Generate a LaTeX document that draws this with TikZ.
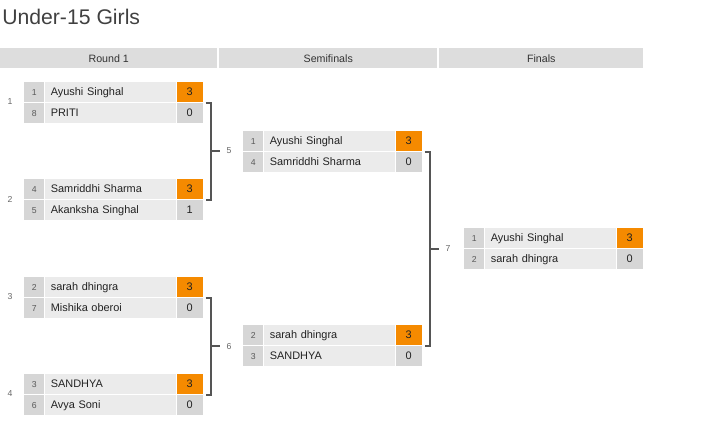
\documentclass[tikz,border=0pt]{standalone}
\usepackage{fontspec}
\setmainfont{Liberation Sans}
\usetikzlibrary{positioning,calc}
\definecolor{barbg}{HTML}{DDDDDD}
\definecolor{seedbg}{HTML}{D6D6D6}
\definecolor{namebg}{HTML}{EBEBEB}
\definecolor{winbg}{HTML}{F58A00}
\definecolor{ink}{HTML}{222222}
\definecolor{linegray}{HTML}{555555}
\tikzset{
  cell/.style={inner sep=0pt,minimum height=15pt,text height=6pt,text depth=1.7pt,font=\fontsize{8.2}{9}\selectfont,text=ink},
  seedcell/.style={cell,fill=seedbg,minimum width=15pt,anchor=north west,font=\fontsize{6.5}{8}\selectfont,text=black!65},
  namecell/.style={cell,fill=namebg,text width=89.5pt,inner xsep=4.5pt,align=left},
  losecell/.style={cell,fill=seedbg,minimum width=19.5pt},
  wincell/.style={cell,fill=winbg,minimum width=19.5pt},
  hdrcell/.style={fill=barbg,minimum height=15pt,inner sep=0pt,anchor=north west,font=\fontsize{8}{9}\selectfont,text=black!80},
  matchno/.style={font=\fontsize{6.5}{8}\selectfont,text=black!60,inner sep=1pt},
  bracket/.style={draw=linegray,line width=1.5pt}
}
% one player row: id, top-left, seed, name, score style, score
\newcommand{\playerrow}[6]{%
  \node[seedcell] (#1s) at (#2) {#3};
  \node[namecell,right=0pt of #1s] (#1n) {#4};
  \node[#5,right=0pt of #1n] (#1p) {#6};}

\begin{document}
\begin{tikzpicture}[x=0.75pt,y=-0.75pt]
\useasboundingbox (0,0) rectangle (705,445);
\node[anchor=base west,inner sep=0pt,font=\fontsize{15.9}{18}\selectfont,text=black!75] (title) at (2,25) {Under-15 Girls};
% column headers
\node[hdrcell,minimum width=162.75pt] (hdr1) at (0,48) {Round 1};
\node[hdrcell,minimum width=163.5pt] (hdr2) at (219,48) {Semifinals};
\node[hdrcell,minimum width=153pt] (hdr3) at (439,48) {Finals};
% round 1
\playerrow{m1a}{24,82}{1}{Ayushi Singhal}{wincell}{3}
\playerrow{m1b}{24,103}{8}{PRITI}{losecell}{0}
\playerrow{m2a}{24,179}{4}{Samriddhi Sharma}{wincell}{3}
\playerrow{m2b}{24,200}{5}{Akanksha Singhal}{losecell}{1}
\playerrow{m3a}{24,277}{2}{sarah dhingra}{wincell}{3}
\playerrow{m3b}{24,298}{7}{Mishika oberoi}{losecell}{0}
\playerrow{m4a}{24,374}{3}{SANDHYA}{wincell}{3}
\playerrow{m4b}{24,395}{6}{Avya Soni}{losecell}{0}
\node[matchno] (n1) at (10,102) {1};
\node[matchno] (n2) at (10,199) {2};
\node[matchno] (n3) at (10,297) {3};
\node[matchno] (n4) at (10,394) {4};
% semifinals
\playerrow{m5a}{243,131}{1}{Ayushi Singhal}{wincell}{3}
\playerrow{m5b}{243,152}{4}{Samriddhi Sharma}{losecell}{0}
\playerrow{m6a}{243,325}{2}{sarah dhingra}{wincell}{3}
\playerrow{m6b}{243,346}{3}{SANDHYA}{losecell}{0}
% finals
\playerrow{m7a}{464,228}{1}{Ayushi Singhal}{wincell}{3}
\playerrow{m7b}{464,249}{2}{sarah dhingra}{losecell}{0}
% brackets
\node[matchno] (n5) at ($(m1ap.south east)!0.5!(m2ap.south east)+(19.5pt,0)$) {5};
\node[matchno] (n6) at ($(m3ap.south east)!0.5!(m4ap.south east)+(19.5pt,0)$) {6};
\node[matchno] (n7) at ($(m5ap.south east)!0.5!(m6ap.south east)+(19.5pt,0)$) {7};
\draw[bracket] ([xshift=2pt]m1ap.south east) -| ([xshift=6pt]m2ap.south east) -- ([xshift=2pt]m2ap.south east);
\draw[bracket] ([xshift=2pt]m3ap.south east) -| ([xshift=6pt]m4ap.south east) -- ([xshift=2pt]m4ap.south east);
\draw[bracket] ([xshift=2pt]m5ap.south east) -| ([xshift=6pt]m6ap.south east) -- ([xshift=2pt]m6ap.south east);
\draw[bracket] ([xshift=-4pt]n5.west) -- ++(-6.5pt,0);
\draw[bracket] ([xshift=-4pt]n6.west) -- ++(-6.5pt,0);
\draw[bracket] ([xshift=-4pt]n7.west) -- ++(-6.5pt,0);
\end{tikzpicture}
\end{document}
